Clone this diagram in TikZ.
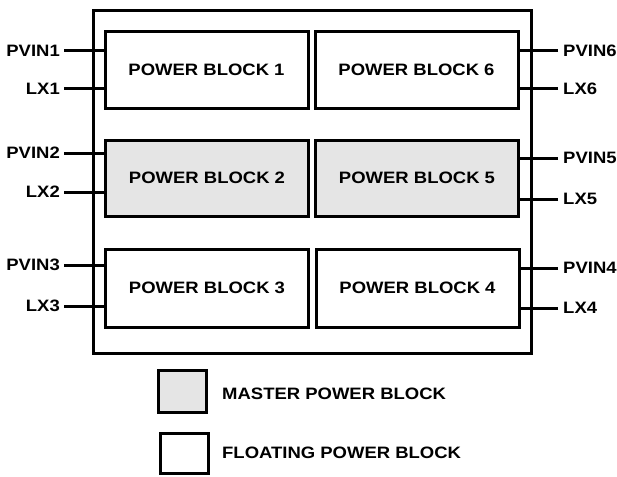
\documentclass[tikz,border=0pt]{standalone}
\usepackage{fontspec}
\setmainfont{Liberation Sans}[FakeStretch=1.12]
\begin{document}
\begin{tikzpicture}[x=1pt,y=-1pt,
  blk/.style={draw,line width=3pt,minimum width=203pt,minimum height=76pt,inner sep=0pt,font=\fontsize{16.5}{18}\selectfont\bfseries},
  master/.style={blk,fill=black!10},
  pin/.style={inner sep=0pt,font=\fontsize{16.5}{18}\selectfont\bfseries},
  wire/.style={line width=3pt},
  lgd/.style={draw,line width=3pt,inner sep=0pt,minimum width=48pt,minimum height=42pt}]
\useasboundingbox (0,0) rectangle (617,476);
\node[draw,line width=3pt,minimum width=438pt,minimum height=342pt,inner sep=0pt] (outer) at (312,182) {};
\node[blk] (b1) at (206.5,70) {POWER BLOCK 1};
\node[blk] (b6) at (416.5,70) {POWER BLOCK 6};
\node[master] (b2) at (207,178) {POWER BLOCK 2};
\node[master] (b5) at (417,178) {POWER BLOCK 5};
\node[blk,minimum height=78pt] (b3) at (207,288) {POWER BLOCK 3};
\node[blk,minimum height=78pt] (b4) at (417.5,288) {POWER BLOCK 4};
% left pins
\node[pin,anchor=east] (pv1) at (60,51) {PVIN1};
\node[pin,anchor=east] (lx1) at (60,89) {LX1};
\node[pin,anchor=east] (pv2) at (60,153) {PVIN2};
\node[pin,anchor=east] (lx2) at (60,192) {LX2};
\node[pin,anchor=east] (pv3) at (60,265) {PVIN3};
\node[pin,anchor=east] (lx3) at (60,306) {LX3};
% right pins
\node[pin,anchor=west] (pv6) at (563,51) {PVIN6};
\node[pin,anchor=west] (lx6) at (563,89) {LX6};
\node[pin,anchor=west] (pv5) at (563,158) {PVIN5};
\node[pin,anchor=west] (lx5) at (563,199) {LX5};
\node[pin,anchor=west] (pv4) at (563,268) {PVIN4};
\node[pin,anchor=west] (lx4) at (563,308) {LX4};
\foreach \p/\b in {pv1/b1,lx1/b1,pv2/b2,lx2/b2,pv3/b3,lx3/b3}{
  \draw[wire] ([xshift=4pt]\p.east) -- (\p.east -| \b.west);
}
\foreach \p/\b in {pv6/b6,lx6/b6,pv5/b5,lx5/b5,pv4/b4,lx4/b4}{
  \draw[wire] ([xshift=-5pt]\p.west) -- (\p.west -| \b.east);
}
% legend
\node[lgd,fill=black!10] (lm) at (182.5,391.5) {};
\node[lgd,minimum height=40pt] (lf) at (184,453) {};
\node[pin,anchor=west] (tm) at (222,394) {MASTER POWER BLOCK};
\node[pin,anchor=west] (tf) at (222,453) {FLOATING POWER BLOCK};
\end{tikzpicture}
\end{document}
